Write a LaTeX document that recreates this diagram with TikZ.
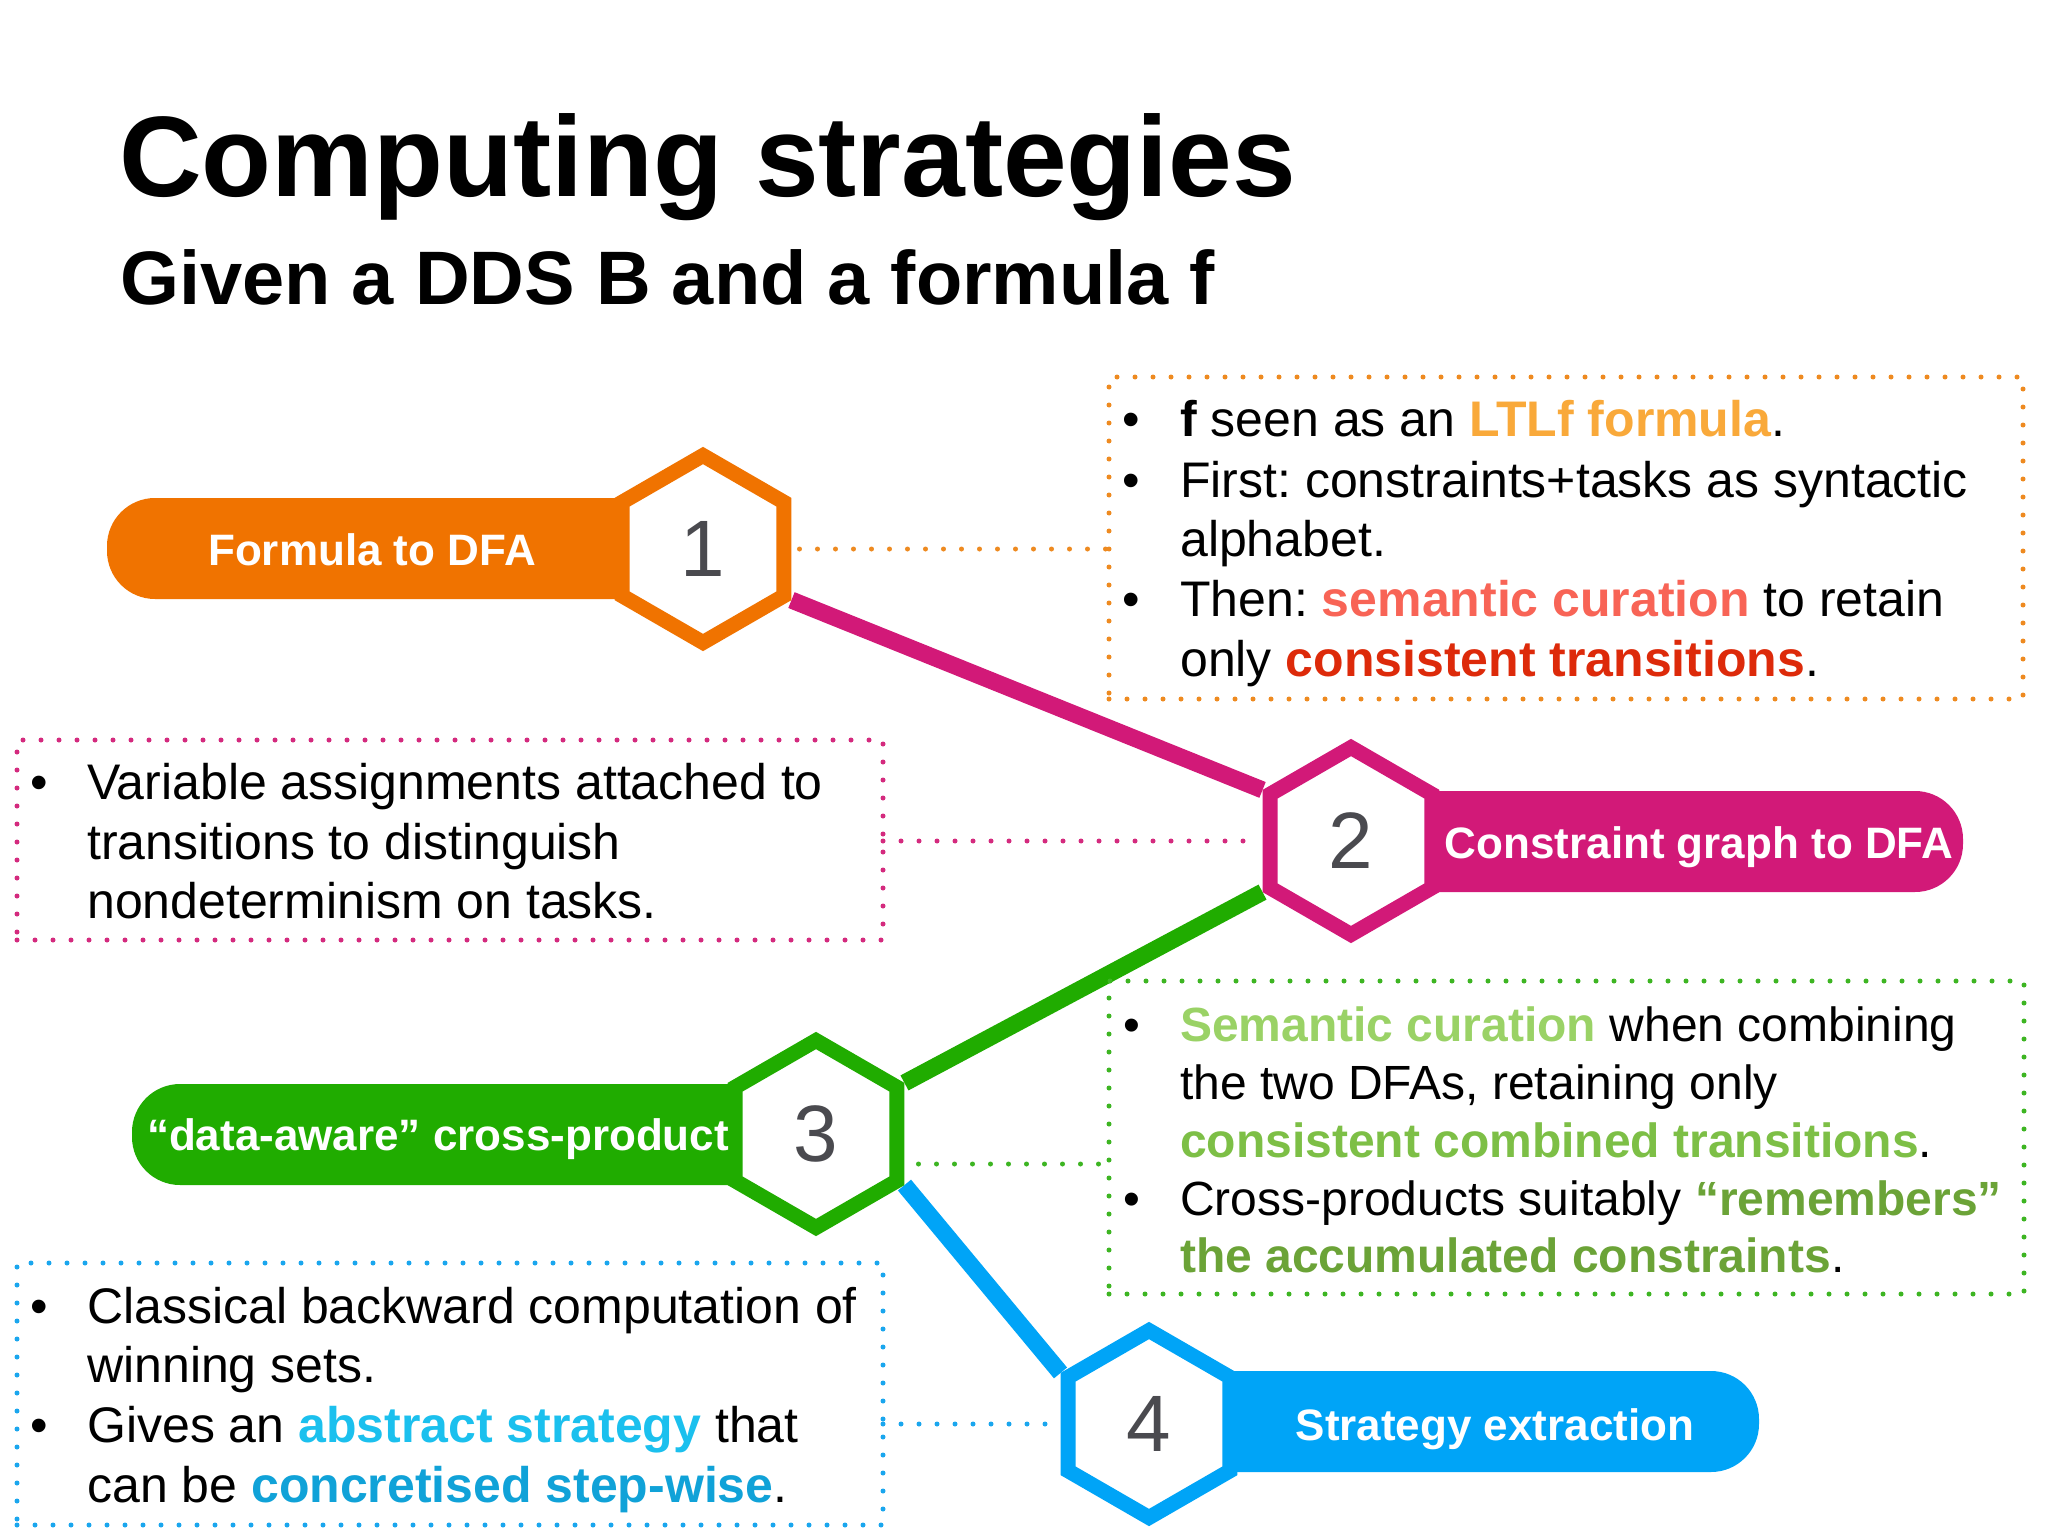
\documentclass[tikz,border=0pt]{standalone}
\usepackage{fontspec}
\setmainfont{Liberation Sans}
\frenchspacing
\usetikzlibrary{shapes.geometric,backgrounds}
\definecolor{orangeC}{HTML}{F07300}
\definecolor{magC}{HTML}{D21978}
\definecolor{greenC}{HTML}{20AC00}
\definecolor{blueC}{HTML}{00A4F7}
\definecolor{numC}{HTML}{4A4A4F}
\definecolor{ltlfC}{HTML}{F9A93A}
\definecolor{semC}{HTML}{F86456}
\definecolor{consC}{HTML}{DD2A0A}
\definecolor{gsemC}{HTML}{9AD266}
\definecolor{gconsC}{HTML}{7DBF46}
\definecolor{gremC}{HTML}{6BA337}
\definecolor{absC}{HTML}{1BC0EE}
\definecolor{concC}{HTML}{10A2D8}
\definecolor{orangeD}{HTML}{EE8A20}
\definecolor{magD}{HTML}{D42A7E}
\definecolor{greenD}{HTML}{3DB522}
\definecolor{blueD}{HTML}{1AA6EE}
\tikzset{
  hexnode/.style={regular polygon, regular polygon sides=6, shape border rotate=30,
    minimum size=187pt, inner sep=0pt, line width=15pt, fill=white,
    font=\fontsize{80}{80}\selectfont, text=numC},
  pilltext/.style={anchor=base, text=white, inner sep=0pt, font=\fontsize{44}{44}\selectfont\bfseries},
  dbox/.style={draw, rectangle, dash pattern=on 0pt off 18pt, line cap=round, line width=5pt,
    inner sep=0pt, outer sep=0pt, anchor=north west},
  dline/.style={dash pattern=on 0pt off 18pt, line cap=round, line width=5pt},
  conn/.style={line width=17pt},
  bodyline/.style={anchor=base west, inner sep=0pt, font=\fontsize{50}{60}\selectfont},
  gline/.style={anchor=base west, inner sep=0pt, font=\fontsize{48}{58}\selectfont},
}
\begin{document}
\begin{tikzpicture}[x=1pt,y=-1pt]
\useasboundingbox (0,0) rectangle (2048,1536);

% title
\node[anchor=base west, inner sep=0pt, font=\fontsize{114.5}{114}\selectfont\bfseries] (title) at (119,196) {Computing strategies};
\node[anchor=base west, inner sep=0pt, font=\fontsize{75.8}{76}\selectfont\bfseries] (subtitle) at (120,304) {Given a DDS B and a formula f};

% dotted boxes
\node[dbox, draw=orangeD, minimum width=914pt, minimum height=322pt] (b1) at (1109,377) {};
\node[dbox, draw=magD, minimum width=866pt, minimum height=200pt] (b2) at (17,740) {};
\node[dbox, draw=greenD, minimum width=915pt, minimum height=313pt] (b3) at (1109,981) {};
\node[dbox, draw=blueD, minimum width=866pt, minimum height=262pt] (b4) at (17,1263) {};

% hexagons
\node[hexnode, draw=orangeC] (h1) at (703,549) {1};
\node[hexnode, draw=magC] (h2) at (1351,841) {2};
\node[hexnode, draw=greenC] (h3) at (816,1134) {3};
\node[hexnode, draw=blueC] (h4) at (1149,1424) {4};

\begin{scope}[on background layer]
\fill[white] (0,0) rectangle (2048,1536);
% pills
\fill[orangeC, rounded corners=48pt] (107,498) rectangle (h1.center |- 0,599);
\fill[magC, rounded corners=48pt] (h2.center |- 0,791) rectangle (1963,892);
\fill[greenC, rounded corners=48pt] (132,1084) rectangle (h3.center |- 0,1185);
\fill[blueC, rounded corners=48pt] (h4.center |- 0,1371) rectangle (1759,1472);
% connectors
\draw[conn, magC] (h1.-30) -- (h2.150);
\draw[conn, greenC] (h2.-150) -- (h3.30);
\draw[conn, blueC] (h3.-30) -- (h4.150);
\end{scope}

% dotted links
\draw[dline, orangeD] ([xshift=8pt]h1.east) -- (h1.east -| b1.west);
\draw[dline, magD] (b2.east |- h2.west) -- ([xshift=-8pt]h2.west);
\draw[dline, greenD] ([xshift=14pt,yshift=-30pt]h3.east) -- ([yshift=-30pt]h3.east -| b3.west);
\draw[dline, blueD] (b4.east |- h4.west) -- ([xshift=-8pt]h4.west);

% pill labels
\node[pilltext] (t1) at (372,565) {Formula to DFA};
\node[pilltext] (t2) at (1699,858) {Constraint graph to DFA};
\node[pilltext] (t3) at (438,1150) {“data-aware” cross-product};
\node[pilltext] (t4) at (1495,1440) {Strategy extraction};

% orange box text
\node[bodyline] (o1b) at (1122,436) {•};
\node[bodyline] (o1) at (1180,436) {\textbf{f} seen as an \textcolor{ltlfC}{\textbf{LTLf formula}}.};
\node[bodyline] (o2b) at (1122,497) {•};
\node[bodyline] (o2) at (1180,497) {First: constraints+tasks as syntactic};
\node[bodyline] (o3) at (1180,556) {alphabet.};
\node[bodyline] (o4b) at (1122,616) {•};
\node[bodyline] (o4) at (1180,616) {Then: \textcolor{semC}{\textbf{semantic curation}} to retain};
\node[bodyline] (o5) at (1180,676) {only \textcolor{consC}{\textbf{consistent transitions}}.};

% magenta box text
\node[bodyline] (m1b) at (30,799) {•};
\node[bodyline] (m1) at (87,799) {Variable assignments attached to};
\node[bodyline] (m2) at (87,859) {transitions to distinguish};
\node[bodyline] (m3) at (87,918) {nondeterminism on tasks.};

% green box text
\node[gline] (g1b) at (1123,1041) {•};
\node[gline] (g1) at (1180,1041) {\textcolor{gsemC}{\textbf{Semantic curation}} when combining};
\node[gline] (g2) at (1180,1099) {the two DFAs, retaining only};
\node[gline] (g3) at (1180,1157) {\textcolor{gconsC}{\textbf{consistent combined transitions}}.};
\node[gline] (g4b) at (1123,1215) {•};
\node[gline] (g4) at (1180,1215) {Cross-products suitably \textcolor{gremC}{\textbf{“remembers”}}};
\node[gline] (g5) at (1180,1272) {\textcolor{gremC}{\textbf{the accumulated constraints}}.};

% blue box text
\node[bodyline] (u1b) at (30,1323) {•};
\node[bodyline] (u1) at (87,1323) {Classical backward computation of};
\node[bodyline] (u2) at (87,1382) {winning sets.};
\node[bodyline] (u3b) at (30,1442) {•};
\node[bodyline] (u3) at (87,1442) {Gives an \textcolor{absC}{\textbf{abstract strategy}} that};
\node[bodyline] (u4) at (87,1502) {can be \textcolor{concC}{\textbf{concretised step-wise}}.};
\end{tikzpicture}
\end{document}
